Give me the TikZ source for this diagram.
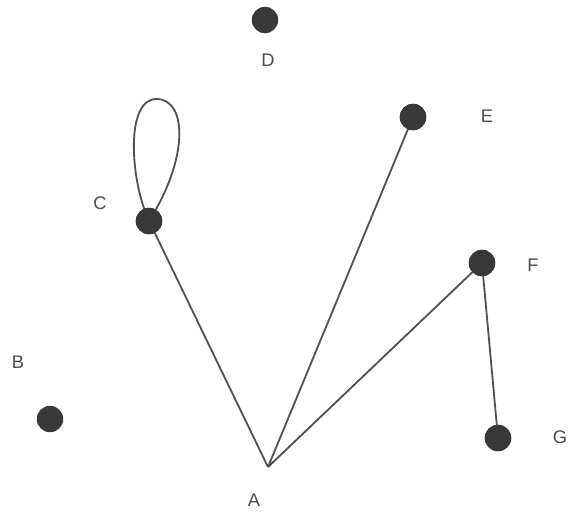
\documentclass[tikz,border=0pt]{standalone}
\usepackage{fontspec}
\setmainfont{Liberation Sans}
\begin{document}
\begin{tikzpicture}[x=0.025cm,y=-0.025cm,
  vertex/.style={circle,fill=black!78,minimum size=0.66cm,inner sep=0pt},
  lbl/.style={text=black!70,font=\fontsize{13}{15}\selectfont},
  edge/.style={draw=black!68,line width=1.3pt}]
\useasboundingbox (0,0) rectangle (568,515);
\coordinate (A) at (268,467);
\node[vertex] at(265,20)(D){};
\node[vertex] at(413,117)(E){};
\node[vertex] at(149,221)(C){};
\node[vertex] at(482,263)(F){};
\node[vertex] at(50,419)(B){};
\node[vertex] at(498,438)(G){};
\node[lbl] at(254,500)(la){A};
\node[lbl] at(18,362)(lb){B};
\node[lbl] at(100,203)(lc){C};
\node[lbl] at(268,60)(ld){D};
\node[lbl] at(487,116)(le){E};
\node[lbl] at(533,265)(lf){F};
\node[lbl] at(560,437)(lg){G};
% edges, then the dots again on top
\path[edge](A)--(C.center) (A)--(E.center) (A)--(F.center) (F.center)--(G.center);
\path[edge](C.center) .. controls (130,180) and (125,98) .. (157,99)
  .. controls (188,100) and (188,160) .. (C.center);
\node[vertex] at(C){};
\node[vertex] at(E){};
\node[vertex] at(F){};
\node[vertex] at(G){};
\end{tikzpicture}
\end{document}
